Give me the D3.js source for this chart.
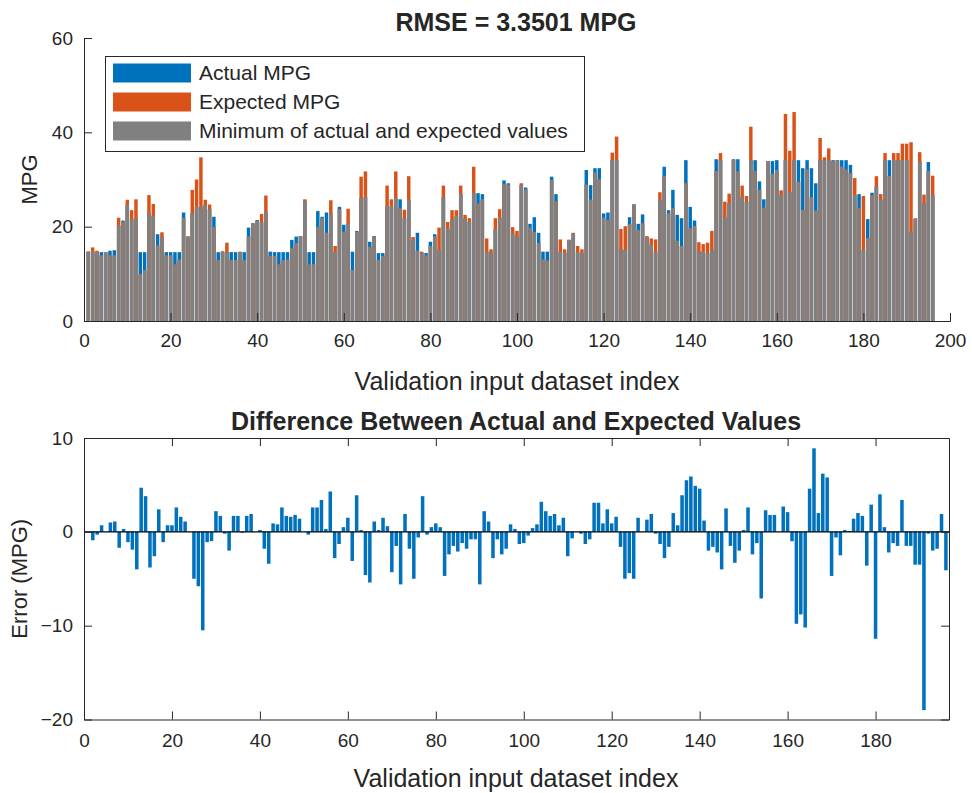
<!DOCTYPE html>
<html>
<head>
<meta charset="utf-8">
<script src="https://cdn.jsdelivr.net/npm/d3@7"></script>
<style>
  html, body { margin: 0; padding: 0; background: #fff; }
  svg { display: block; }
  text { font-family: "Liberation Sans", Arial, sans-serif; fill: #262626; }
</style>
</head>
<body>
<svg id="chart" width="972" height="793"></svg>
<script>
// ---- Data ----
const actualMPG = [
  14.7,14.7,14.6,14.6,14.6,14.9,15.0,20.2,21.3,24.6,21.6,21.8,14.6,14.6,22.9,22.2,18.4,17.7,14.6,14.6,
  14.6,14.6,23.0,17.9,22.8,24.2,24.2,24.6,23.7,22.1,14.6,14.6,14.6,14.6,14.6,14.6,14.6,19.8,20.7,21.4,
  20.9,23.2,14.7,14.6,14.6,14.6,14.6,17.2,17.9,18.0,25.5,14.6,14.6,23.3,22.1,23.0,22.8,14.6,24.2,20.4,
  20.7,14.7,19.1,26.0,26.3,16.8,18.0,14.4,14.4,24.4,24.3,26.1,25.8,21.8,25.7,17.2,18.7,14.4,14.4,16.8,
  18.4,15.1,26.3,19.5,21.4,22.3,26.9,21.7,21.0,27.1,27.1,26.9,14.7,14.4,19.4,21.9,29.8,29.2,18.6,17.9,
  28.8,28.3,20.6,22.0,18.7,14.7,14.7,30.6,26.9,14.7,14.5,17.2,18.5,14.6,14.4,32.0,28.8,32.4,32.4,22.8,
  23.0,34.1,34.1,15.1,15.1,22.0,24.7,20.6,22.6,17.8,16.2,14.5,25.7,32.7,23.5,27.8,22.5,21.8,34.1,24.2,
  21.3,14.7,14.7,14.4,15.1,34.3,34.1,22.0,25.0,34.3,34.3,26.3,25.3,34.1,34.1,29.6,25.8,33.9,33.9,34.1,
  26.7,34.1,27.3,34.1,34.1,32.4,34.1,32.4,29.2,34.1,34.1,34.1,34.1,34.1,34.1,34.1,33.1,26.7,26.9,15.1,
  21.6,27.2,28.5,25.7,34.1,34.1,34.1,34.1,34.1,34.1,18.9,21.6,33.8,25.0,33.7,26.7
];
const expectedMPG = [
  14.7,15.6,14.9,13.9,14.6,13.9,13.9,21.9,21.0,25.7,23.5,25.8,9.9,10.8,26.7,24.8,16.0,18.8,13.9,13.9,
  12.0,13.0,21.9,17.9,27.8,30.0,34.7,25.7,24.7,19.9,12.9,14.8,16.6,12.9,12.9,14.7,12.9,17.9,20.7,21.2,
  22.7,26.6,13.8,13.8,12.0,12.9,13.0,15.4,16.5,18.0,25.8,12.0,12.0,19.9,21.8,18.7,25.6,15.9,23.7,18.9,
  23.8,10.8,18.9,30.6,31.7,15.7,17.8,12.9,13.8,28.7,25.8,31.7,23.9,23.6,30.7,17.8,14.9,14.7,13.9,15.9,
  17.9,19.8,28.7,21.0,23.5,23.5,28.7,22.5,21.8,32.7,24.9,25.8,17.5,15.2,21.8,23.7,29.0,28.9,19.9,19.1,
  29.2,27.9,19.8,18.8,16.5,13.0,12.8,29.9,25.4,17.3,15.2,17.2,18.7,15.9,15.2,28.9,25.7,31.5,30.0,21.9,
  21.4,35.7,39.1,19.5,20.1,20.5,24.7,19.3,20.7,18.0,17.5,17.3,27.3,30.7,22.8,23.9,17.0,15.9,29.2,19.6,
  20.1,16.7,16.3,16.6,19.1,31.8,35.6,25.3,27.0,34.1,31.7,28.7,26.5,41.2,31.8,27.8,24.0,33.9,31.2,32.0,
  27.7,43.9,36.1,44.3,29.5,23.5,32.1,26.2,23.4,38.8,34.7,36.6,33.9,34.0,32.7,32.1,31.4,30.3,24.0,26.5,
  17.6,26.7,30.7,26.9,35.6,30.7,35.6,35.6,37.6,37.6,37.9,21.8,35.8,26.8,31.8,30.8
];
const indices = actualMPG.map((_, i) => i + 1);
const minMPG = actualMPG.map((a, i) => Math.min(a, expectedMPG[i]));
const errorMPG = actualMPG.map((a, i) => a - expectedMPG[i]);

const topXTicks = [0, 20, 40, 60, 80, 100, 120, 140, 160, 180, 200];
const topYTicks = [0, 20, 40, 60];
const botXTicks = [0, 20, 40, 60, 80, 100, 120, 140, 160, 180];
const botYTicks = [-20, -10, 0, 10];
const legendLabels = ["Actual MPG", "Expected MPG", "Minimum of actual and expected values"];
const colors = { actual: "#0072BD", expected: "#D95319", min: "#808080", axis: "#262626" };

// ---- Drawing ----
const svg = d3.select("#chart");
const TICK = 8;

function styleAxis(g) {
  g.selectAll("path, line").attr("stroke", colors.axis).attr("stroke-width", 1);
  g.selectAll("text").attr("fill", colors.axis).style("font-size", "19px")
    .style("font-family", '"Liberation Sans", Arial, sans-serif');
}

// ===== Top chart =====
const xT = d3.scaleLinear().domain([0, 200]).range([84, 950]);
const yT = d3.scaleLinear().domain([0, 60]).range([321, 38]);
const bwT = 0.8 * (xT(1) - xT(0));

const gTop = svg.append("g");
gTop.append("g").selectAll("rect").data(indices).join("rect")
  .attr("x", d => xT(d) - bwT / 2).attr("width", bwT)
  .attr("y", d => yT(actualMPG[d - 1])).attr("height", d => yT(0) - yT(actualMPG[d - 1]))
  .attr("fill", colors.actual);
gTop.append("g").selectAll("rect").data(indices).join("rect")
  .attr("x", d => xT(d) - bwT / 2).attr("width", bwT)
  .attr("y", d => yT(expectedMPG[d - 1])).attr("height", d => yT(0) - yT(expectedMPG[d - 1]))
  .attr("fill", colors.expected);
gTop.append("g").selectAll("rect").data(indices).join("rect")
  .attr("x", d => xT(d) - bwT / 2).attr("width", bwT)
  .attr("y", d => yT(minMPG[d - 1])).attr("height", d => yT(0) - yT(minMPG[d - 1]))
  .attr("fill", colors.min);

gTop.append("g").attr("transform", `translate(0,${yT(0)})`)
  .call(d3.axisBottom(xT).tickValues(topXTicks).tickFormat(d3.format("d"))
    .tickSizeInner(-TICK).tickSizeOuter(-TICK).tickPadding(13))
  .call(styleAxis);
gTop.append("g").attr("transform", `translate(${xT(0)},0)`)
  .call(d3.axisLeft(yT).tickValues(topYTicks).tickFormat(d3.format("d"))
    .tickSizeInner(-TICK).tickSizeOuter(-TICK).tickPadding(11))
  .call(styleAxis);

svg.append("text").attr("x", 516).attr("y", 31).attr("text-anchor", "middle")
  .style("font-size", "25px").style("font-weight", "bold").text("RMSE = 3.3501 MPG");
svg.append("text").attr("x", 517).attr("y", 390).attr("text-anchor", "middle")
  .style("font-size", "25px").text("Validation input dataset index");
svg.append("text").attr("transform", `translate(37,${(yT(0) + yT(60)) / 2}) rotate(-90)`)
  .attr("text-anchor", "middle").style("font-size", "22px").text("MPG");

// legend
const lg = svg.append("g");
lg.append("rect").attr("x", 105.5).attr("y", 56.5).attr("width", 479).attr("height", 95)
  .attr("fill", "#fff").attr("stroke", colors.axis).attr("stroke-width", 1);
const legendColors = [colors.actual, colors.expected, colors.min];
legendLabels.forEach((lab, i) => {
  const cy = 73 + i * 29;
  lg.append("rect").attr("x", 113).attr("y", cy - 9.5).attr("width", 78).attr("height", 19)
    .attr("fill", legendColors[i]);
  lg.append("text").attr("x", 199).attr("y", cy).attr("dy", "0.35em")
    .style("font-size", "21px").text(lab);
});

// ===== Bottom chart =====
const xB = d3.scaleLinear().domain([0, 196.7]).range([84, 949]);
const yB = d3.scaleLinear().domain([-20, 10]).range([719.5, 438]);
const bwB = 0.8 * (xB(1) - xB(0));

const gBot = svg.append("g");
gBot.append("g").selectAll("rect").data(indices).join("rect")
  .attr("x", d => xB(d) - bwB / 2).attr("width", bwB)
  .attr("y", d => yB(Math.max(0, errorMPG[d - 1])))
  .attr("height", d => Math.abs(yB(errorMPG[d - 1]) - yB(0)))
  .attr("fill", colors.actual);
// baseline
gBot.append("line").attr("x1", xB(0)).attr("x2", xB(196.7)).attr("y1", yB(0)).attr("y2", yB(0))
  .attr("stroke", "#000").attr("stroke-width", 1.2);

gBot.append("g").attr("transform", `translate(0,${yB(-20)})`)
  .call(d3.axisBottom(xB).tickValues(botXTicks).tickFormat(d3.format("d"))
    .tickSizeInner(-TICK).tickSizeOuter(0).tickPadding(14))
  .call(styleAxis);
gBot.append("g").attr("transform", `translate(0,${yB(10)})`)
  .call(d3.axisTop(xB).tickValues(botXTicks).tickFormat("")
    .tickSizeInner(-TICK).tickSizeOuter(0))
  .call(styleAxis);
gBot.append("g").attr("transform", `translate(${xB(0)},0)`)
  .call(d3.axisLeft(yB).tickValues(botYTicks).tickFormat(d3.format("d"))
    .tickSizeInner(-TICK).tickSizeOuter(0).tickPadding(11))
  .call(styleAxis);
gBot.append("g").attr("transform", `translate(${xB(196.7)},0)`)
  .call(d3.axisRight(yB).tickValues(botYTicks).tickFormat("")
    .tickSizeInner(-TICK).tickSizeOuter(0))
  .call(styleAxis);

svg.append("text").attr("x", 516).attr("y", 430).attr("text-anchor", "middle")
  .style("font-size", "25px").style("font-weight", "bold")
  .text("Difference Between Actual and Expected Values");
svg.append("text").attr("x", 516).attr("y", 787).attr("text-anchor", "middle")
  .style("font-size", "25px").text("Validation input dataset index");
svg.append("text").attr("transform", `translate(27,${(yB(-20) + yB(10)) / 2}) rotate(-90)`)
  .attr("text-anchor", "middle").style("font-size", "22px").text("Error (MPG)");
</script>
</body>
</html>
